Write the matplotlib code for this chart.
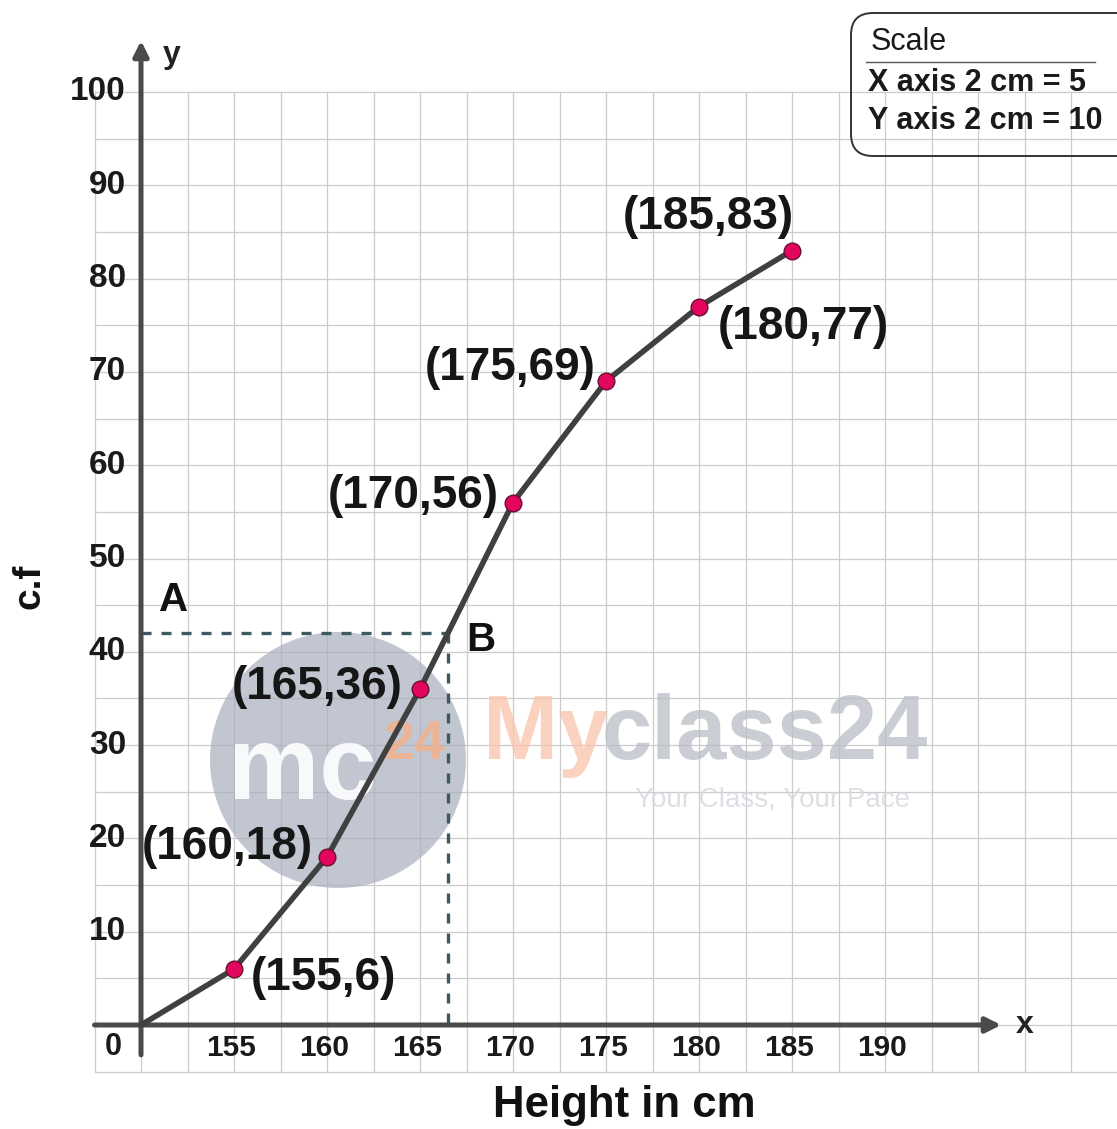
import matplotlib
matplotlib.use("Agg")
import matplotlib.pyplot as plt
from matplotlib.patches import FancyBboxPatch, Circle
from matplotlib.transforms import IdentityTransform
from matplotlib.lines import Line2D
import numpy as np

plt.rcParams['font.family'] = ['Liberation Sans', 'DejaVu Sans']

# ---- data ----
heights = [155, 160, 165, 170, 175, 180, 185]
cum_freq = [6, 18, 36, 56, 69, 77, 83]
lower_limit = 150          # ogive start (plotted at the origin, axis kink)
x_tick_values = [155, 160, 165, 170, 175, 180, 185, 190]
y_tick_values = [10, 20, 30, 40, 50, 60, 70, 80, 90, 100]
median_cf = 42
median_height = 166.5

# label offsets (pixels) for each point label: (dx, dy, ha)
label_offsets = [(17, -9, 'left'), (-14, 10, 'right'), (-17, 2, 'right'),
                 (-14, 7, 'right'), (-10, 13, 'right'), (19, -20, 'left'),
                 (2, 34, 'right')]

def u(h):
    return (h - lower_limit) / 5.0

W, H = 1117, 1129
fig = plt.figure(figsize=(W / 100, H / 100), dpi=100)
ax = fig.add_axes([0, 0, 1, 1])
ax.set_axis_off()
px_x = 93.0   # pixels per major x unit
px_y = 9.33   # pixels per cf unit
ox, oy = 141, 1025
ax.set_xlim(-ox / px_x, (W - ox) / px_x)
ax.set_ylim(-(H - oy) / px_y, oy / px_y)

grid_c = '#cccccc'
x_right = (W - ox) / px_x + 0.1
for gx in np.arange(-0.5, x_right, 0.5):
    ax.plot([gx, gx], [-5, 100], color=grid_c, lw=0.9, zorder=1)
for gy in np.arange(-5, 100.1, 5):
    ax.plot([-0.5, x_right], [gy, gy], color=grid_c, lw=0.9, zorder=1)

# watermark (below the plotted marks)
ax.add_patch(Circle((338, H - 760), 128, transform=IdentityTransform(), facecolor='#a9aebd',
                    edgecolor='none', alpha=0.7, zorder=1.5, clip_on=False))
tf = fig.transFigure
ax.text(302 / W, 1 - 772 / H, 'mc', transform=tf, color='white', fontsize=74, fontweight='bold',
        ha='center', va='center', alpha=0.9, zorder=1.6)
ax.text(414 / W, 1 - 745 / H, '24', transform=tf, color='#f6b088', fontsize=40, fontweight='bold',
        ha='center', va='center', alpha=0.8, zorder=1.6)
ax.text(483 / W, 1 - 735 / H, 'My', transform=tf, color='#f9c3aa', fontsize=65, fontweight='bold',
        ha='left', va='center', alpha=0.75, zorder=1.6)
ax.text(602 / W, 1 - 735 / H, 'class24', transform=tf, color='#b9bdc6', fontsize=65,
        fontweight='bold', ha='left', va='center', alpha=0.75, zorder=1.6)
ax.text(772 / W, 1 - 800 / H, 'Your Class, Your Pace', transform=tf, color='#d6d8de',
        fontsize=20, ha='center', va='center', alpha=0.8, zorder=1.6)

# axes with arrows
axis_c = '#4a4a4a'
ax.annotate('', xy=(9.25, 0), xytext=(-0.5, 0),
            arrowprops=dict(arrowstyle='-|>,head_length=0.9,head_width=0.45', lw=3.6,
                            color=axis_c, shrinkA=0, shrinkB=0), zorder=3)
ax.annotate('', xy=(0, 105.5), xytext=(0, -3.2),
            arrowprops=dict(arrowstyle='-|>,head_length=0.9,head_width=0.45', lw=3.6,
                            color=axis_c, shrinkA=0, shrinkB=0), zorder=3)
ax.text(9.5, 0, 'x', fontsize=23, fontweight='bold', ha='center', va='center', color='#222222')
ax.text(0.33, 104.0, 'y', fontsize=23, fontweight='bold', ha='center', va='center', color='#222222')

# tick labels
for yv in y_tick_values:
    ax.text(-0.16, yv, str(yv), fontsize=24, fontweight='bold', ha='right', va='center',
            color='#1a1a1a')
ax.text(-0.3, -2.4, '0', fontsize=22, fontweight='bold', ha='center', va='center', color='#1a1a1a')
for xv in x_tick_values:
    ax.text(u(xv) - 0.03, -2.5, str(xv), fontsize=21.5, fontweight='bold', ha='center',
            va='center', color='#1a1a1a')

ax.text(5.2, -8.6, 'Height in cm', fontsize=31.5, fontweight='bold', ha='center',
        va='center', color='#111111')
ax.text(-1.2, 47, 'c.f', fontsize=28, fontweight='bold', ha='center', va='center',
        rotation=90, color='#111111')

# median construction
dash_c = '#3e5a60'
ax.plot([0, u(median_height)], [median_cf, median_cf], color=dash_c, lw=2.4,
        linestyle=(0, (3, 3)), zorder=2.5)
ax.plot([u(median_height), u(median_height)], [median_cf, 0], color=dash_c, lw=2.4,
        linestyle=(0, (3, 3)), zorder=2.5)
ax.text(0.35, 45.5, 'A', fontsize=29, fontweight='bold', ha='center', va='center', color='#111111')
ax.text(3.65, 41.3, 'B', fontsize=29, fontweight='bold', ha='center', va='center', color='#111111')

# ogive
xs = [u(lower_limit)] + [u(h) for h in heights]
ys = [0] + cum_freq
ax.plot(xs, ys, color='#404040', lw=4, solid_capstyle='round', zorder=4)
ax.plot([u(h) for h in heights], cum_freq, linestyle='none', marker='o', markersize=12,
        markerfacecolor='#e2065f', markeredgecolor='#6a1030', markeredgewidth=1, zorder=5)
for h, c, (dx, dy, ha) in zip(heights, cum_freq, label_offsets):
    ax.annotate(f'({h},{c})', xy=(u(h), c), xytext=(dx, dy), textcoords='offset pixels',
                fontsize=33, fontweight='bold', ha=ha, va='center', color='#161616', zorder=6)

# scale box
box = FancyBboxPatch((851, H - 156), 300, 143, boxstyle='round,pad=0,rounding_size=22',
                     transform=IdentityTransform(), facecolor='none', edgecolor='#333333',
                     lw=1.4, zorder=7)
fig.patches.append(box)
fig.add_artist(Line2D([866 / W, 1095 / W], [1 - 62 / H, 1 - 62 / H], color='#555555', lw=1.0))
fig.text(871 / W, 1 - 42 / H, 'Scale', fontsize=22, ha='left', va='center', color='#1a1a1a')
fig.text(868 / W, 1 - 83 / H, 'X axis 2 cm = 5', fontsize=22, fontweight='bold', ha='left',
         va='center', color='#1a1a1a')
fig.text(868 / W, 1 - 121 / H, 'Y axis 2 cm = 10', fontsize=22, fontweight='bold', ha='left',
         va='center', color='#1a1a1a')

fig.savefig('out.png', dpi=100, facecolor='white')
